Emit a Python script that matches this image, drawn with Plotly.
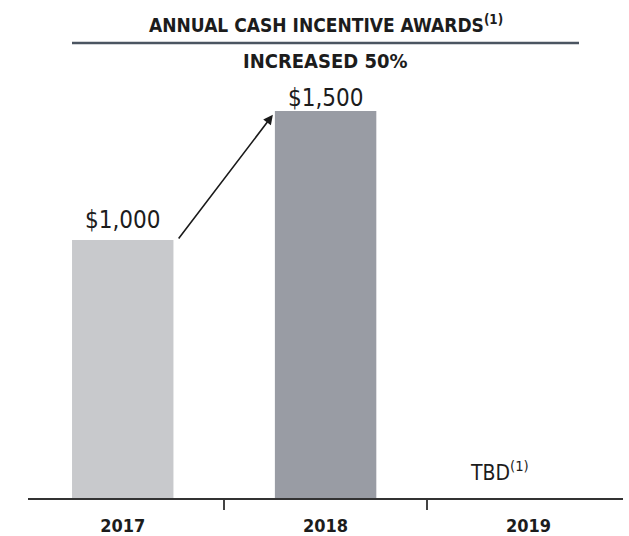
import plotly.graph_objects as go

years = ["2017", "2018", "2019"]
awards = [1000, 1500, None]
value_labels = ["&#36;1,000", "&#36;1,500", "TBD<sup>(1)</sup>"]
label_shift = [4, -3, 11]
bar_colors = ["#c8c9cc", "#999ca4", "#999ca4"]
title_text = "ANNUAL CASH INCENTIVE AWARDS<sup>(1)</sup>"
subtitle_text = "INCREASED 50%"

W, H = 629, 536
ML, MR, MT, MB = 28, 6, 0, 38
plot_h = H - MT - MB
y_max = 1930

COND = "DejaVu Sans Condensed, Liberation Sans Narrow, Arial Narrow, sans-serif"
TXT = "#1c1c1c"

fig = go.Figure()
fig.add_trace(go.Bar(
    x=years, y=awards, marker=dict(color=bar_colors, line=dict(width=0)),
    width=0.5, hoverinfo="skip", showlegend=False,
))

annotations = []
for i, (v, lab, sh) in enumerate(zip(awards, value_labels, label_shift)):
    if v is not None:
        annotations.append(dict(x=i, y=v, xref="x", yref="y", text=lab, showarrow=False,
                                yanchor="bottom", yshift=sh,
                                font=dict(family=COND, size=24, color=TXT)))
    else:
        annotations.append(dict(x=i, y=0, xref="x", yref="y", text=lab, showarrow=False,
                                yanchor="bottom", yshift=sh, xshift=-29,
                                font=dict(family=COND, size=21, color=TXT)))

# arrow from 2017 bar to 2018 bar
annotations.append(dict(
    x=0.74, y=awards[1] * 0.99, xref="x", yref="y",
    ax=0.27, ay=awards[0], axref="x", ayref="y",
    showarrow=True, arrowhead=2, arrowsize=1.2, arrowwidth=1.6, arrowcolor="#1a1a1a", text="",
))

annotations.append(dict(x=0.5, y=(plot_h - 24) / plot_h, xref="paper", yref="paper",
                        text="<b>" + title_text + "</b>", showarrow=False, yanchor="middle",
                        font=dict(family=COND, size=19, color=TXT)))
annotations.append(dict(x=0.5, y=(plot_h - 61) / plot_h, xref="paper", yref="paper",
                        text="<b>" + subtitle_text + "</b>", showarrow=False, yanchor="middle",
                        font=dict(family=COND, size=20, color=TXT)))

fig.add_shape(type="line", xref="paper", yref="paper",
              x0=(72 - ML) / (W - ML - MR), x1=(579 - ML) / (W - ML - MR),
              y0=(plot_h - 43) / plot_h, y1=(plot_h - 43) / plot_h,
              line=dict(color="#4b5561", width=2.5))

fig.update_layout(
    width=W, height=H, margin=dict(l=ML, r=MR, t=MT, b=MB),
    paper_bgcolor="white", plot_bgcolor="white",
    annotations=annotations, bargap=0.5,
    xaxis=dict(type="category", range=[-0.467, 2.466], showline=True, linecolor="#333333",
               linewidth=2, ticks="outside", tickson="boundaries", ticklen=10, tickwidth=2,
               tickcolor="#444444", showgrid=False, zeroline=False, ticklabelstandoff=10,
               tickfont=dict(family=COND, size=18, color=TXT),
               tickprefix="<b>", ticksuffix="</b>"),
    yaxis=dict(visible=False, range=[0, y_max], fixedrange=True),
)

fig.write_html("out.html", config={"displayModeBar": False, "staticPlot": True},
               post_script="document.body.style.margin='0';document.body.style.overflow='hidden';")
